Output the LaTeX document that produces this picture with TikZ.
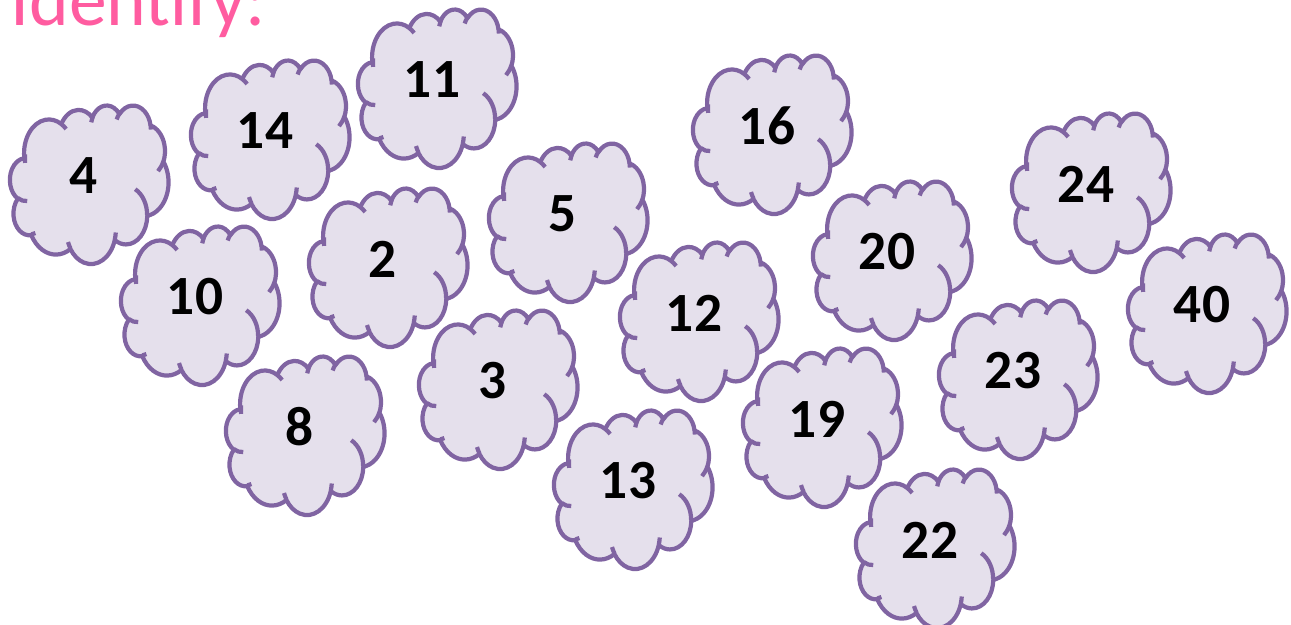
\documentclass[tikz,border=0pt]{standalone}
\usepackage{fontspec}
\setmainfont{Carlito}

\definecolor{cloudfill}{RGB}{229,224,236}
\definecolor{cloudedge}{RGB}{128,100,162}
\definecolor{titlepink}{RGB}{255,92,160}

\tikzset{
    declare function={ovang(\ra,\rb,\ang)=atan2(\ra*sin(\ang),\rb*cos(\ang));},
    cloudbody/.style={fill=cloudfill, draw=cloudedge, line width=2.4pt, line join=round},
    cloudfold/.style={draw=cloudedge, line width=2.4pt},
    numlbl/.style={inner sep=0pt, font=\bfseries\fontsize{31.5}{31.5}\selectfont},
    titletext/.style={inner sep=0pt, text=titlepink, font=\fontsize{43}{43}\selectfont},
    pics/lavcloud/.style={code={
        \begin{scope}[x=0.00734cm, y=-0.00734cm]
            % outline of the cloud, eleven puffs
            \path[cloudbody] (39.00,143.70)
                \foreach \rwd/\rht/\stang/\swang in {
                    67.53/91.90/-190.4875/123.7805, 53.33/72.67/-144.1024/89.9452,
                    43.65/59.45/-145.8079/99.7230,  48.57/65.95/-130.9861/117.2417,
                    53.33/72.73/-78.7089/109.0269,  67.75/92.20/-46.2673/130.2690,
                    57.85/78.67/0.6250/114.0333,    67.52/92.15/22.4516/115.1726,
                    77.20/105.43/66.2426/75.7110,   43.60/59.18/-274.9421/146.7356,
                    43.45/59.45/-246.8285/152.5189}
                { arc[x radius=\rwd, y radius=\rht, start angle={ovang(\rwd,\rht,\stang)},
                      delta angle={mod(ovang(\rwd,\rht,\stang+\swang)-ovang(\rwd,\rht,\stang)+720,360)}] }
                -- cycle;
            % small folds inside
            \path[cloudfold]
                \foreach \ptx/\pty/\rwd/\rht/\stang/\swang in {
                    46.93/261.77/43.45/59.45/86.7420/26.4295,
                    69.28/348.99/43.60/59.18/73.6105/11.4475,
                    164.78/390.90/67.52/92.15/137.6242/14.0811,
                    288.27/347.51/67.52/92.15/6.4533/15.9984,
                    341.29/229.54/57.85/78.67/-70.2924/70.9174,
                    417.98/153.54/53.33/72.73/30.3180/27.7515,
                    383.24/54.26/48.57/65.95/-13.7443/14.8589,
                    290.78/39.52/48.57/65.95/-149.1815/18.1954,
                    221.41/47.20/43.65/59.45/-163.4943/17.6864,
                    140.00/51.92/67.53/91.90/-66.7070/12.3194,
                    41.27/157.89/67.53/91.90/-190.4875/19.7506}
                { (\ptx,\pty) arc[x radius=\rwd, y radius=\rht, start angle={ovang(\rwd,\rht,\stang)},
                      delta angle={mod(ovang(\rwd,\rht,\stang+\swang)-ovang(\rwd,\rht,\stang)+720,360)}] };
        \end{scope}
    }},
}

\begin{document}
\begin{tikzpicture}[x=0.02cm, y=-0.02cm]
\useasboundingbox (0,0) rectangle (1291,625);
\clip (0,0) rectangle (1291,625);

% heading, cut at the top
\node[titletext, anchor=base west] (ttl) at (10,26) {Identify:};

% left group
\pic at (10,105)  {lavcloud}; \node[numlbl] (n4)  at (84,176)  {4};
\pic at (191,60)  {lavcloud}; \node[numlbl] (n14) at (265,131) {14};
\pic at (358,9)   {lavcloud}; \node[numlbl] (n11) at (432,80)  {11};
\pic at (121,226) {lavcloud}; \node[numlbl] (n10) at (195,297) {10};
\pic at (309,188) {lavcloud}; \node[numlbl] (n2)  at (383,259) {2};
\pic at (226,356) {lavcloud}; \node[numlbl] (n8)  at (300,427) {8};

% middle group
\pic at (489,143) {lavcloud}; \node[numlbl] (n5)  at (563,214) {5};
\pic at (419,310) {lavcloud}; \node[numlbl] (n3)  at (493,381) {3};
\pic at (554,410) {lavcloud}; \node[numlbl] (n13) at (628,481) {13};
\pic at (620,242) {lavcloud}; \node[numlbl] (n12) at (694,313) {12};
\pic at (693,55)  {lavcloud}; \node[numlbl] (n16) at (767,126) {16};
\pic at (743,348) {lavcloud}; \node[numlbl] (n19) at (817,419) {19};

% right group
\pic at (813,181)  {lavcloud}; \node[numlbl] (n20) at (887,252)  {20};
\pic at (856,469)  {lavcloud}; \node[numlbl] (n22) at (930,540)  {22};
\pic at (939,300)  {lavcloud}; \node[numlbl] (n23) at (1013,371) {23};
\pic at (1012,113) {lavcloud}; \node[numlbl] (n24) at (1086,184) {24};
\pic at (1128,234) {lavcloud}; \node[numlbl] (n40) at (1202,305) {40};

\end{tikzpicture}
\end{document}
